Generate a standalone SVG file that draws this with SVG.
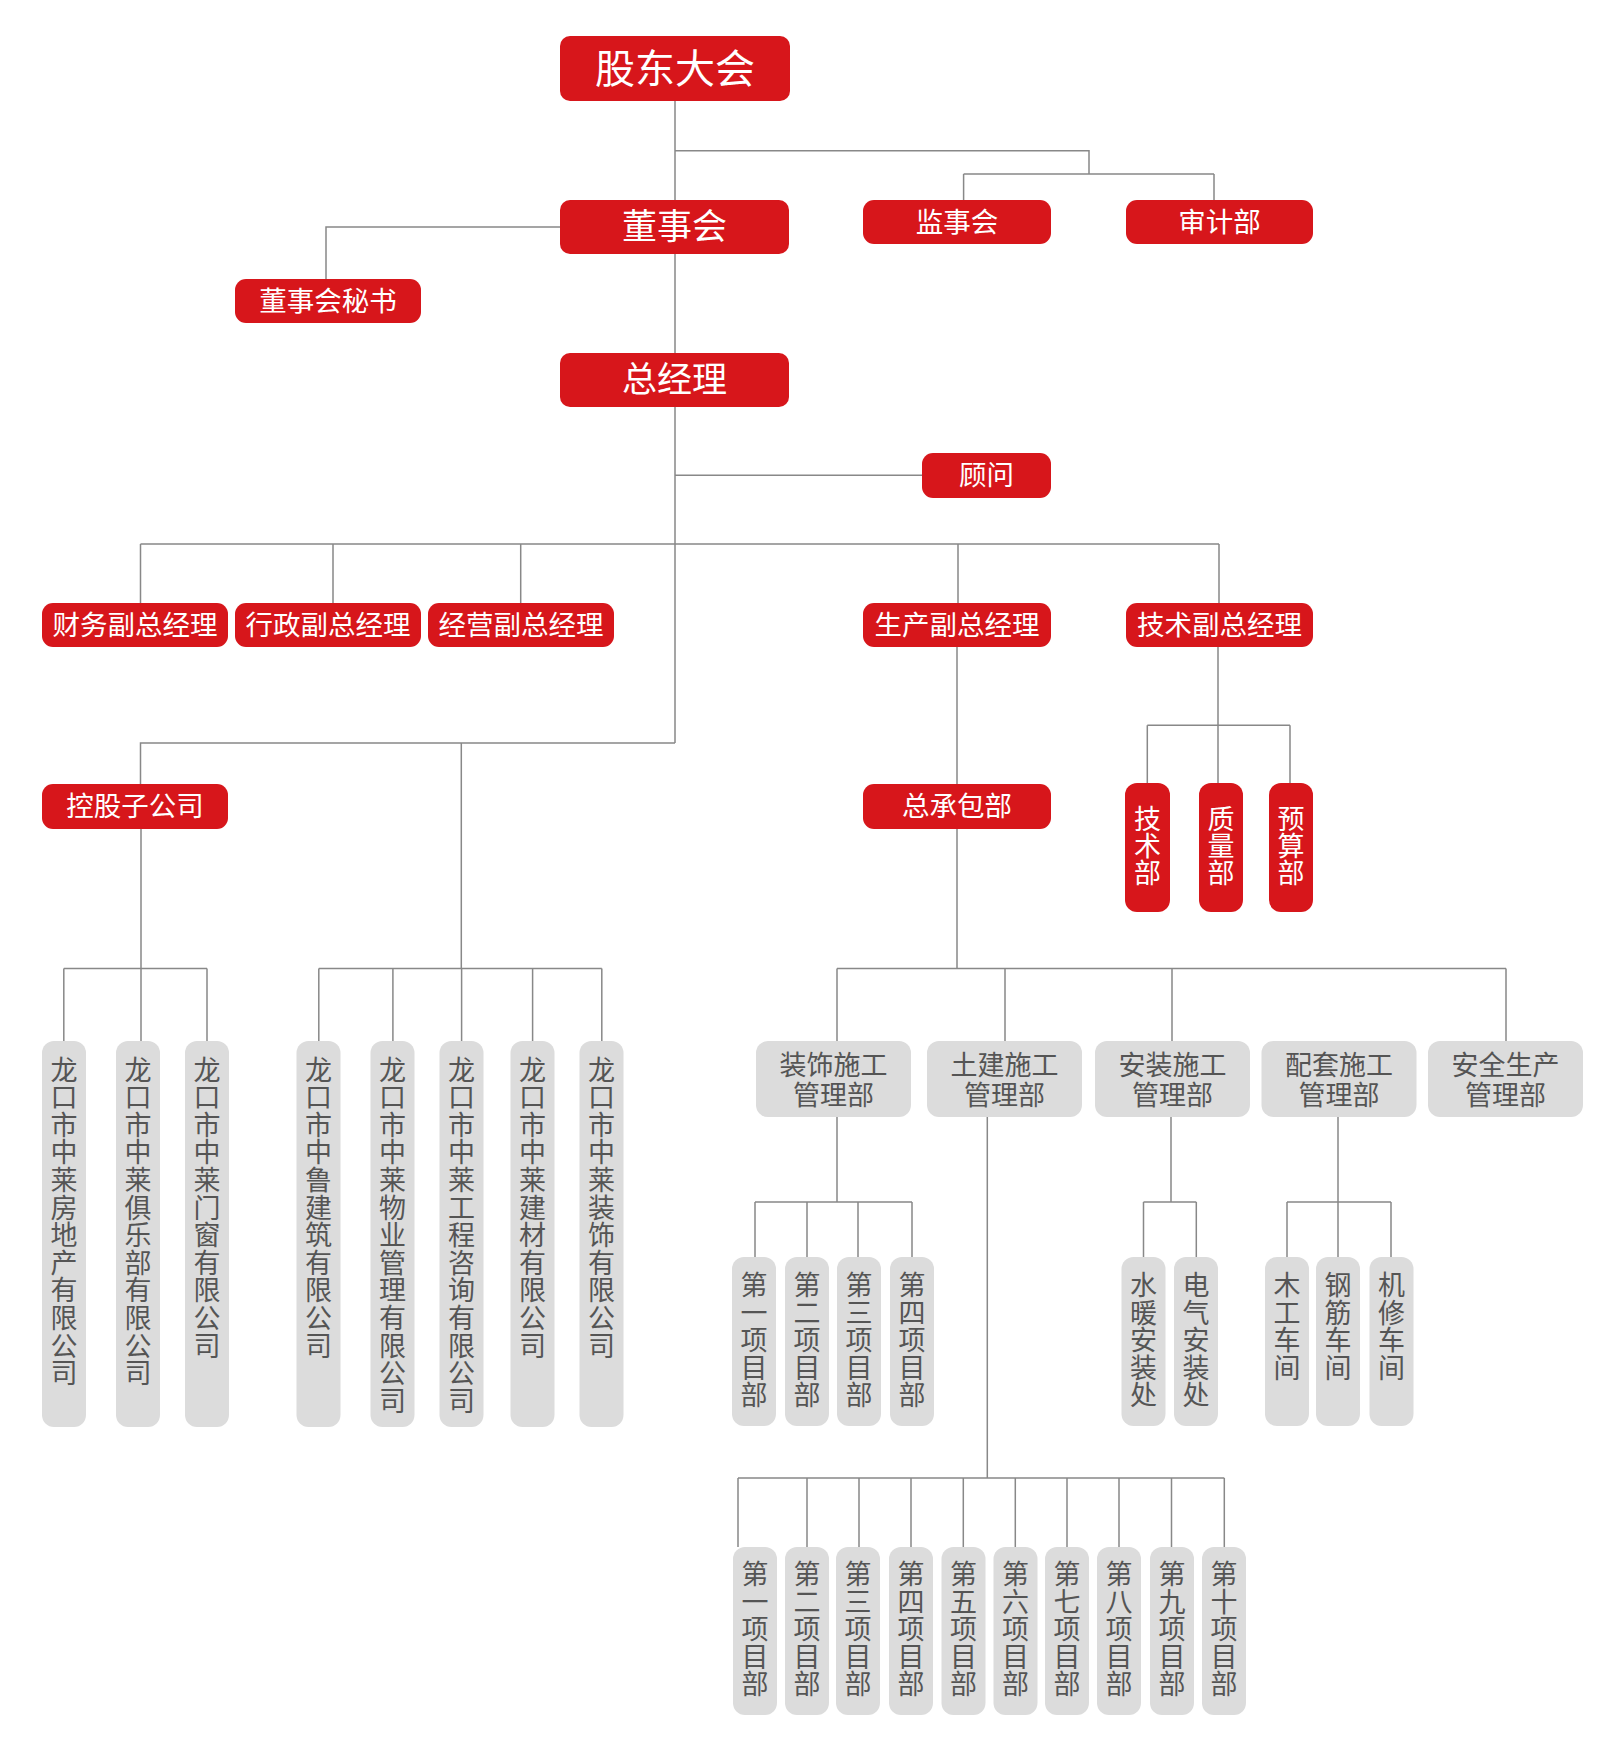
<svg xmlns="http://www.w3.org/2000/svg" width="1621" height="1753" viewBox="0 0 1621 1753">
<style>
.r{fill:#d7161b}
.g{fill:#dcdcdc}
text{font-family:"Noto Sans CJK SC","Noto Sans",sans-serif;text-anchor:middle}
.rt{fill:#ffffff;font-size:27.5px}
.gt{fill:#555555;font-size:27px}
.v{writing-mode:vertical-rl;text-anchor:start;letter-spacing:0.6px}
.ln{fill:none;stroke:#888888;stroke-width:1.5}
</style>
<rect width="1621" height="1753" fill="#ffffff"/>
<g id="connectors" class="ln">
<path d="M675 101V353M675 150.7H1089V174M963.6 174H1214M963.6 174V200M1214 174V200"/>
<path d="M560 227H326V279"/>
<path d="M675 407V743M675 475.3H922"/>
<path d="M140.5 544H1219M140.5 544V603M333 544V603M520.7 544V603M958 544V603M1219 544V603"/>
<path d="M675 743H140.5V784M461.3 743V968.6"/>
<path d="M141 829V1041M63.8 968.6H207M63.8 968.6V1041M207 968.6V1041"/>
<path d="M318.8 968.6H601.8M318.8 968.6V1041M392.9 968.6V1041M461.6 968.6V1041M532.6 968.6V1041M601.8 968.6V1041"/>
<path d="M957 647V784M957 829V968.6M837 968.6H1506M837 968.6V1041M1005 968.6V1041M1172 968.6V1041M1506 968.6V1041"/>
<path d="M1218 647V783M1147.3 725.3H1290M1147.3 725.3V783M1290 725.3V783"/>
<path d="M837 1117V1202M755 1202H912M755 1202V1257M807 1202V1257M858 1202V1257M912 1202V1257"/>
<path d="M987.3 1117V1478M738 1478H1224.3M738 1478V1547M807 1478V1547M859 1478V1547M911 1478V1547M963.3 1478V1547M1015.3 1478V1547M1067 1478V1547M1119 1478V1547M1171.5 1478V1547M1224.3 1478V1547"/>
<path d="M1171 1117V1202M1143.5 1202H1196.3M1143.5 1202V1257M1196.3 1202V1257"/>
<path d="M1338 1117V1257M1287 1202H1391M1287 1202V1257M1391 1202V1257"/>
</g>
<g id="gudong"><rect class="r" x="560" y="36" width="230" height="65" rx="10"/><text class="rt" x="675" y="82.5" style="font-size:40px">股东大会</text></g>
<g id="dongshihui"><rect class="r" x="560" y="200" width="229" height="54" rx="10"/><text class="rt" x="674.5" y="239.3" style="font-size:35px">董事会</text></g>
<g id="mishu"><rect class="r" x="235" y="279" width="186" height="44" rx="11"/><text class="rt" x="328" y="310.6">董事会秘书</text></g>
<g id="zongjingli"><rect class="r" x="560" y="353" width="229" height="54" rx="10"/><text class="rt" x="674.5" y="392.3" style="font-size:35px">总经理</text></g>
<g id="jianshihui"><rect class="r" x="863" y="200" width="188" height="44" rx="11"/><text class="rt" x="957" y="231.6">监事会</text></g>
<g id="shenji"><rect class="r" x="1126" y="200" width="187" height="44" rx="11"/><text class="rt" x="1219.5" y="231.6">审计部</text></g>
<g id="guwen"><rect class="r" x="922" y="453" width="129" height="45" rx="11"/><text class="rt" x="986.5" y="485.1">顾问</text></g>
<g id="caiwu"><rect class="r" x="42" y="603" width="186" height="44" rx="11"/><text class="rt" x="135" y="634.6">财务副总经理</text></g>
<g id="xingzheng"><rect class="r" x="235" y="603" width="186" height="44" rx="11"/><text class="rt" x="328" y="634.6">行政副总经理</text></g>
<g id="jingying"><rect class="r" x="428" y="603" width="186" height="44" rx="11"/><text class="rt" x="521" y="634.6">经营副总经理</text></g>
<g id="shengchan"><rect class="r" x="863" y="603" width="188" height="44" rx="11"/><text class="rt" x="957" y="634.6">生产副总经理</text></g>
<g id="jishufu"><rect class="r" x="1126" y="603" width="187" height="44" rx="11"/><text class="rt" x="1219.5" y="634.6">技术副总经理</text></g>
<g id="konggu"><rect class="r" x="42" y="784" width="186" height="45" rx="11"/><text class="rt" x="135" y="816.1">控股子公司</text></g>
<g id="zongchengbao"><rect class="r" x="863" y="784" width="188" height="45" rx="11"/><text class="rt" x="957" y="816.1">总承包部</text></g>
<g id="jishubu"><rect class="r" x="1125" y="783" width="45" height="129" rx="12"/><text class="rt v" x="1147.5" y="805.5" style="font-size:27px;letter-spacing:0">技术部</text></g>
<g id="zhiliang"><rect class="r" x="1199" y="783" width="44" height="129" rx="12"/><text class="rt v" x="1221" y="805.5" style="font-size:27px;letter-spacing:0">质量部</text></g>
<g id="yusuan"><rect class="r" x="1269" y="783" width="44" height="129" rx="12"/><text class="rt v" x="1291" y="805.5" style="font-size:27px;letter-spacing:0">预算部</text></g>

<g id="sub1"><rect class="g" x="42" y="1041" width="44" height="386" rx="12"/><text class="gt v" x="64" y="1055.8">龙口市中莱房地产有限公司</text></g>
<g id="sub2"><rect class="g" x="116" y="1041" width="44" height="386" rx="12"/><text class="gt v" x="138" y="1055.8">龙口市中莱俱乐部有限公司</text></g>
<g id="sub3"><rect class="g" x="185" y="1041" width="44" height="386" rx="12"/><text class="gt v" x="207" y="1055.8">龙口市中莱门窗有限公司</text></g>
<g id="sub4"><rect class="g" x="296.5" y="1041" width="44" height="386" rx="12"/><text class="gt v" x="318.5" y="1055.8">龙口市中鲁建筑有限公司</text></g>
<g id="sub5"><rect class="g" x="370.5" y="1041" width="44" height="386" rx="12"/><text class="gt v" x="392.5" y="1055.8">龙口市中莱物业管理有限公司</text></g>
<g id="sub6"><rect class="g" x="439.5" y="1041" width="44" height="386" rx="12"/><text class="gt v" x="461.5" y="1055.8">龙口市中莱工程咨询有限公司</text></g>
<g id="sub7"><rect class="g" x="510.5" y="1041" width="44" height="386" rx="12"/><text class="gt v" x="532.5" y="1055.8">龙口市中莱建材有限公司</text></g>
<g id="sub8"><rect class="g" x="579.5" y="1041" width="44" height="386" rx="12"/><text class="gt v" x="601.5" y="1055.8">龙口市中莱装饰有限公司</text></g>

<g id="zhuangshi"><rect class="g" x="756" y="1041" width="155" height="76" rx="12"/><text class="gt"><tspan x="833.5" y="1074.6">装饰施工</tspan><tspan x="833.5" y="1105.3">管理部</tspan></text></g>
<g id="tujian"><rect class="g" x="927" y="1041" width="155" height="76" rx="12"/><text class="gt"><tspan x="1004.5" y="1074.6">土建施工</tspan><tspan x="1004.5" y="1105.3">管理部</tspan></text></g>
<g id="anzhuang"><rect class="g" x="1095" y="1041" width="155" height="76" rx="12"/><text class="gt"><tspan x="1172.5" y="1074.6">安装施工</tspan><tspan x="1172.5" y="1105.3">管理部</tspan></text></g>
<g id="peitao"><rect class="g" x="1261.5" y="1041" width="155" height="76" rx="12"/><text class="gt"><tspan x="1339" y="1074.6">配套施工</tspan><tspan x="1339" y="1105.3">管理部</tspan></text></g>
<g id="anquan"><rect class="g" x="1428" y="1041" width="155" height="76" rx="12"/><text class="gt"><tspan x="1505.5" y="1074.6">安全生产</tspan><tspan x="1505.5" y="1105.3">管理部</tspan></text></g>

<g id="zs1"><rect class="g" x="732" y="1257" width="44" height="169" rx="12"/><text class="gt v" x="754" y="1271.3">第一项目部</text></g>
<g id="zs2"><rect class="g" x="785" y="1257" width="44" height="169" rx="12"/><text class="gt v" x="807" y="1271.3">第二项目部</text></g>
<g id="zs3"><rect class="g" x="837" y="1257" width="44" height="169" rx="12"/><text class="gt v" x="859" y="1271.3">第三项目部</text></g>
<g id="zs4"><rect class="g" x="890" y="1257" width="44" height="169" rx="12"/><text class="gt v" x="912" y="1271.3">第四项目部</text></g>
<g id="shuinuan"><rect class="g" x="1121.5" y="1257" width="44" height="169" rx="12"/><text class="gt v" x="1143.5" y="1271.3">水暖安装处</text></g>
<g id="dianqi"><rect class="g" x="1174" y="1257" width="44" height="169" rx="12"/><text class="gt v" x="1196" y="1271.3">电气安装处</text></g>
<g id="mugong"><rect class="g" x="1265" y="1257" width="44" height="169" rx="12"/><text class="gt v" x="1287" y="1271.3">木工车间</text></g>
<g id="gangjin"><rect class="g" x="1316" y="1257" width="44" height="169" rx="12"/><text class="gt v" x="1338" y="1271.3">钢筋车间</text></g>
<g id="jixiu"><rect class="g" x="1369.5" y="1257" width="44" height="169" rx="12"/><text class="gt v" x="1391.5" y="1271.3">机修车间</text></g>

<g id="tj1"><rect class="g" x="733" y="1547" width="44" height="168" rx="12"/><text class="gt v" x="755" y="1560.2">第一项目部</text></g>
<g id="tj2"><rect class="g" x="785" y="1547" width="44" height="168" rx="12"/><text class="gt v" x="807" y="1560.2">第二项目部</text></g>
<g id="tj3"><rect class="g" x="836" y="1547" width="44" height="168" rx="12"/><text class="gt v" x="858" y="1560.2">第三项目部</text></g>
<g id="tj4"><rect class="g" x="889" y="1547" width="44" height="168" rx="12"/><text class="gt v" x="911" y="1560.2">第四项目部</text></g>
<g id="tj5"><rect class="g" x="941.5" y="1547" width="44" height="168" rx="12"/><text class="gt v" x="963.5" y="1560.2">第五项目部</text></g>
<g id="tj6"><rect class="g" x="993.5" y="1547" width="44" height="168" rx="12"/><text class="gt v" x="1015.5" y="1560.2">第六项目部</text></g>
<g id="tj7"><rect class="g" x="1045" y="1547" width="44" height="168" rx="12"/><text class="gt v" x="1067" y="1560.2">第七项目部</text></g>
<g id="tj8"><rect class="g" x="1097" y="1547" width="44" height="168" rx="12"/><text class="gt v" x="1119" y="1560.2">第八项目部</text></g>
<g id="tj9"><rect class="g" x="1150" y="1547" width="44" height="168" rx="12"/><text class="gt v" x="1172" y="1560.2">第九项目部</text></g>
<g id="tj10"><rect class="g" x="1202" y="1547" width="44" height="168" rx="12"/><text class="gt v" x="1224" y="1560.2">第十项目部</text></g>
</svg>
